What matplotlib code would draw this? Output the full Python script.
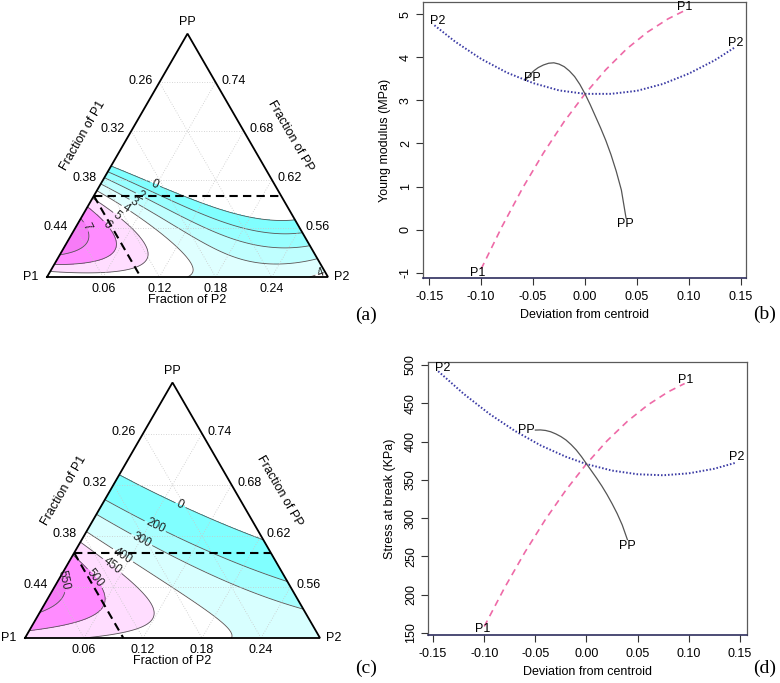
import numpy as np
import matplotlib
matplotlib.use("Agg")
import matplotlib.pyplot as plt
import matplotlib.tri as mtri

plt.rcParams['font.family'] = ['Liberation Sans', 'DejaVu Sans']
plt.rcParams['font.size'] = 9

W, H = 780, 683

# mixture constraints (actual fractions)
lower = {'P1': 0.20, 'P2': 0.00, 'PP': 0.50}
span = 0.30
p1_limit = 0.40
pp_limit = 0.60
grid_ticks = [0.2, 0.4, 0.6, 0.8]

# fitted surfaces in pseudo components (z1 = P1, z2 = P2, z3 = PP)
# order: b1 b2 b3 b12 b13 b23 d12 d13 d23 b123
young_coef = [4.0, 4.4, -15.0, -0.8, 14.19, 0.88, 6.17, 52.5, 0.0, 12.0]
young_levels = [0, 1, 2, 3, 4, 5, 6, 7, 9]
young_colors = ['#80FFFF', '#98FFFF', '#BFFFFF', '#DFFFFF', '#FFFFFF',
                '#FFDDFF', '#FF8CFF', '#F77BF7']

stress_coef = [470, 370, -986.9, 0, 2129.2, 556.8, 0, 473, 354, 1000]
stress_levels = [0, 200, 300, 400, 450, 500, 550, 700]
stress_colors = ['#80FFFF', '#A6FFFF', '#D8FFFF', '#FFFFFF', '#FFDDFF',
                 '#FF8CFF', '#F77BF7']

# Cox effect traces
young_p1_dev = [-0.100, -0.080, -0.060, -0.040, -0.020, 0.000, 0.020, 0.040, 0.060, 0.080, 0.095]
young_p1 = [-0.91, 0.07, 0.97, 1.78, 2.51, 3.15, 3.71, 4.19, 4.58, 4.89, 5.07]
young_p2_dev = [-0.145, -0.125, -0.100, -0.075, -0.050, -0.025, 0.000, 0.025, 0.050, 0.075, 0.100, 0.125, 0.145]
young_p2 = [4.74, 4.36, 3.96, 3.64, 3.40, 3.23, 3.15, 3.15, 3.22, 3.38, 3.62, 3.93, 4.24]
young_pp_dev = [-0.057, -0.053, -0.049, -0.045, -0.040, -0.035, -0.030, -0.025, -0.020, -0.015,
                -0.010, -0.005, 0.000, 0.005, 0.010, 0.015, 0.020, 0.025, 0.030, 0.035, 0.0395]
young_pp = [3.48, 3.60, 3.69, 3.76, 3.82, 3.86, 3.87, 3.84, 3.78, 3.68,
            3.55, 3.37, 3.15, 2.90, 2.63, 2.36, 2.07, 1.74, 1.36, 0.92, 0.27]

stress_p1_dev = [-0.100, -0.080, -0.060, -0.040, -0.020, 0.000, 0.020, 0.040, 0.060, 0.080, 0.096]
stress_p1 = [158.5, 209.4, 256.0, 298.6, 336.8, 370.9, 400.8, 426.4, 447.8, 465.0, 475.8]
stress_p2_dev = [-0.145, -0.120, -0.095, -0.070, -0.045, -0.020, 0.000, 0.025, 0.050, 0.075, 0.100, 0.125, 0.145]
stress_p2 = [491.8, 462.2, 436.2, 413.9, 395.1, 380.1, 370.6, 362.1, 357.3, 356.0, 358.5, 364.5, 372.0]
stress_pp_dev = [-0.050, -0.045, -0.040, -0.035, -0.030, -0.025, -0.020, -0.015, -0.010, -0.005,
                 0.000, 0.005, 0.010, 0.015, 0.020, 0.025, 0.030, 0.035, 0.040]
stress_pp = [415.0, 415.2, 414.5, 412.8, 410.0, 406.5, 402.0, 396.0, 389.0, 380.5,
             371.0, 361.5, 352.0, 342.0, 331.0, 319.0, 306.0, 291.0, 272.0]

dev_ticks = [-0.15, -0.10, -0.05, 0.00, 0.05, 0.10, 0.15]

S3 = np.sqrt(3) / 2
fig = plt.figure(figsize=(W / 100, H / 100), dpi=100)


def to_xy(z2, z3):
    return z2 + 0.5 * z3, S3 * z3


def surface(c, z1, z2, z3):
    b1, b2, b3, b12, b13, b23, d12, d13, d23, b123 = c
    return (b1 * z1 + b2 * z2 + b3 * z3
            + b12 * z1 * z2 + b13 * z1 * z3 + b23 * z2 * z3
            + d12 * z1 * z2 * (z1 - z2) + d13 * z1 * z3 * (z1 - z3)
            + d23 * z2 * z3 * (z2 - z3) + b123 * z1 * z2 * z3)


def ternary(box, tri_px, coef, levels, colors, lab_px):
    x0, y0, x1, y1 = box
    left, base, side = tri_px
    ax = fig.add_axes([x0 / W, 1 - y1 / H, (x1 - x0) / W, (y1 - y0) / H])
    ax.set_xlim((x0 - left) / side, (x1 - left) / side)
    ax.set_ylim((base - y1) / side, (base - y0) / side)
    ax.axis('off')
    px = 1.0 / side

    n = 160
    i, j = np.meshgrid(np.arange(n + 1), np.arange(n + 1))
    keep = i + j <= n
    z2 = i[keep] / n
    z3 = j[keep] / n
    z1 = 1 - z2 - z3
    X, Y = to_xy(z2, z3)
    tri = mtri.Triangulation(X, Y)
    Z = surface(coef, z1, z2, z3)
    ax.tricontourf(tri, Z, levels=levels, colors=colors)
    for lev in levels[:-1]:
        cs = ax.tricontour(tri, Z, levels=[lev], colors='#555555', linewidths=0.6)
        pos = [((p[1] - left) / side, (base - p[2]) / side) for p in lab_px if p[0] == lev]
        if pos:
            ax.clabel(cs, manual=pos, inline=True, inline_spacing=2, fontsize=8.5,
                      fmt='%g', colors='#222222')

    # dotted grid
    for g in grid_ticks:
        for a, b in [((g, 0), (g, 1 - g)), ((0, g), (1 - g, g)), ((0, 1 - g), (1 - g, 0))]:
            xa, ya = to_xy(*a)
            xb, yb = to_xy(*b)
            ax.plot([xa, xb], [ya, yb], color='#c8c8c8', lw=0.6, ls=(0, (1, 2)))

    # constraint lines
    z3c = (pp_limit - lower['PP']) / span
    z1c = (p1_limit - lower['P1']) / span
    for a, b in [((0, z3c), (1 - z3c, z3c)), ((0, 1 - z1c), (1 - z1c, 0))]:
        xa, ya = to_xy(*a)
        xb, yb = to_xy(*b)
        ax.plot([xa, xb], [ya, yb], color='black', lw=1.5, ls=(0, (4, 2.5)))

    ax.plot([0, 1, 0.5, 0], [0, 0, S3, 0], color='black', lw=1.3,
            solid_joinstyle='miter')

    for g in grid_ticks:
        x, y = to_xy(g, 0)
        ax.text(x, y - 12 * px, f"{lower['P2'] + span * g:.2f}", ha='center', va='center')
        x, y = to_xy(0, g)
        ax.text(x - 19 * px, y + 1.5 * px, f"{lower['P1'] + span * (1 - g):.2f}",
                ha='center', va='center')
        x, y = to_xy(1 - g, g)
        ax.text(x + 18 * px, y + 1.5 * px, f"{lower['PP'] + span * g:.2f}",
                ha='center', va='center')

    ax.text(0.5, S3 + 12 * px, 'PP', ha='center', va='center')
    ax.text(-16 * px, 0, 'P1', ha='center', va='center')
    ax.text(1 + 14 * px, 0, 'P2', ha='center', va='center')
    x, y = to_xy(0, 0.5)
    ax.text(x - 0.866 * 40 * px, y + 0.5 * 40 * px, 'Fraction of P1',
            rotation=60, ha='center', va='center', rotation_mode='anchor')
    x, y = to_xy(0.5, 0.5)
    ax.text(x + 0.866 * 38 * px, y + 0.5 * 38 * px, 'Fraction of PP',
            rotation=-60, ha='center', va='center', rotation_mode='anchor')
    ax.text(0.5, -22.5 * px, 'Fraction of P2', ha='center', va='center')
    return ax


def trace(box, xlim, ylim, yticks, ylabel, curves):
    x0, y0, x1, y1 = box
    ax = fig.add_axes([x0 / W, 1 - y1 / H, (x1 - x0) / W, (y1 - y0) / H])
    ax.set_xlim(*xlim)
    ax.set_ylim(*ylim)
    for dev, val, style, off0, off1, name in curves:
        ax.plot(dev, val, **style)
        ax.annotate(name, (dev[0], val[0]), xytext=(off0[0] * 0.72, off0[1] * 0.72),
                    textcoords='offset points', ha='center', va='center')
        ax.annotate(name, (dev[-1], val[-1]), xytext=(off1[0] * 0.72, off1[1] * 0.72),
                    textcoords='offset points', ha='center', va='center')
    for s in ax.spines.values():
        s.set_color('#5a5a5a')
        s.set_linewidth(0.9)
    ax.spines['bottom'].set_color('#2e2e5e')
    ax.spines['bottom'].set_linewidth(1.2)
    ax.set_xticks(dev_ticks)
    ax.set_xticklabels([f"{t:.2f}" for t in dev_ticks])
    ax.set_yticks(yticks)
    ax.set_yticklabels([f"{t:g}" for t in yticks], rotation=90, va='center')
    ax.tick_params(length=5, width=0.8, color='#333333')
    ax.tick_params(axis='x', pad=4.5)
    ax.tick_params(axis='y', pad=3)
    ax.set_xlabel('Deviation from centroid')
    ax.xaxis.set_label_coords(0.5, -0.135)
    ax.xaxis.label.set_va('center')
    ax.set_ylabel(ylabel)
    ax.yaxis.set_label_coords(-38 / (x1 - x0), 0.5)
    ax.yaxis.label.set_va('center')
    return ax


p1_style = dict(color='#EE6AA7', lw=1.2, ls=(0, (4, 3)))
p2_style = dict(color='#3C3CA5', lw=1.4, ls=(0, (0.8, 1.0)))
pp_style = dict(color='#555555', lw=0.9, ls='-')

ternary((0, 0, 360, 330), (47, 277, 281), young_coef, young_levels, young_colors,
        [(0, 156.7, 180.7), (2, 143.3, 190), (3, 136.7, 197.3), (4, 129.3, 203.3),
         (5, 120, 212.3), (6, 106.7, 225), (7, 83.3, 228.3), (4, 318.3, 267.3)])
ternary((0, 335, 360, 683), (25, 638, 295), stress_coef, stress_levels, stress_colors,
        [(0, 181.7, 501.7), (200, 156.7, 523.3), (300, 141.7, 540), (400, 123.3, 555),
         (450, 111.7, 566.7), (500, 95, 578.3), (550, 65, 580)])

trace((423, 2, 746, 278), (-0.156, 0.155), (-1.12, 5.28), [-1, 0, 1, 2, 3, 4, 5],
      'Young modulus (MPa)',
      [(young_p1_dev, young_p1, p1_style, (-3, -4), (1, 4), 'P1'),
       (young_p2_dev, young_p2, p2_style, (3, 4), (0, 4), 'P2'),
       (young_pp_dev, young_pp, pp_style, (7, 2), (-1, -6), 'PP')])
trace((428, 362, 747, 635), (-0.155, 0.157), (147.4, 503.9),
      [150, 200, 250, 300, 350, 400, 450, 500], 'Stress at break (KPa)',
      [(stress_p1_dev, stress_p1, p1_style, (-2, -3), (1, 4), 'P1'),
       (stress_p2_dev, stress_p2, p2_style, (4, 3), (2, 6), 'P2'),
       (stress_pp_dev, stress_pp, pp_style, (-9, 0), (0, -6), 'PP')])

for lab, (x, y) in zip(['(a)', '(b)', '(c)', '(d)'],
                       [(366, 315), (765, 314), (366, 668), (765, 668)]):
    fig.text(x / W, 1 - y / H, lab, family='Liberation Serif', fontsize=14,
             ha='center', va='center')

fig.savefig('out.png', dpi=100)
